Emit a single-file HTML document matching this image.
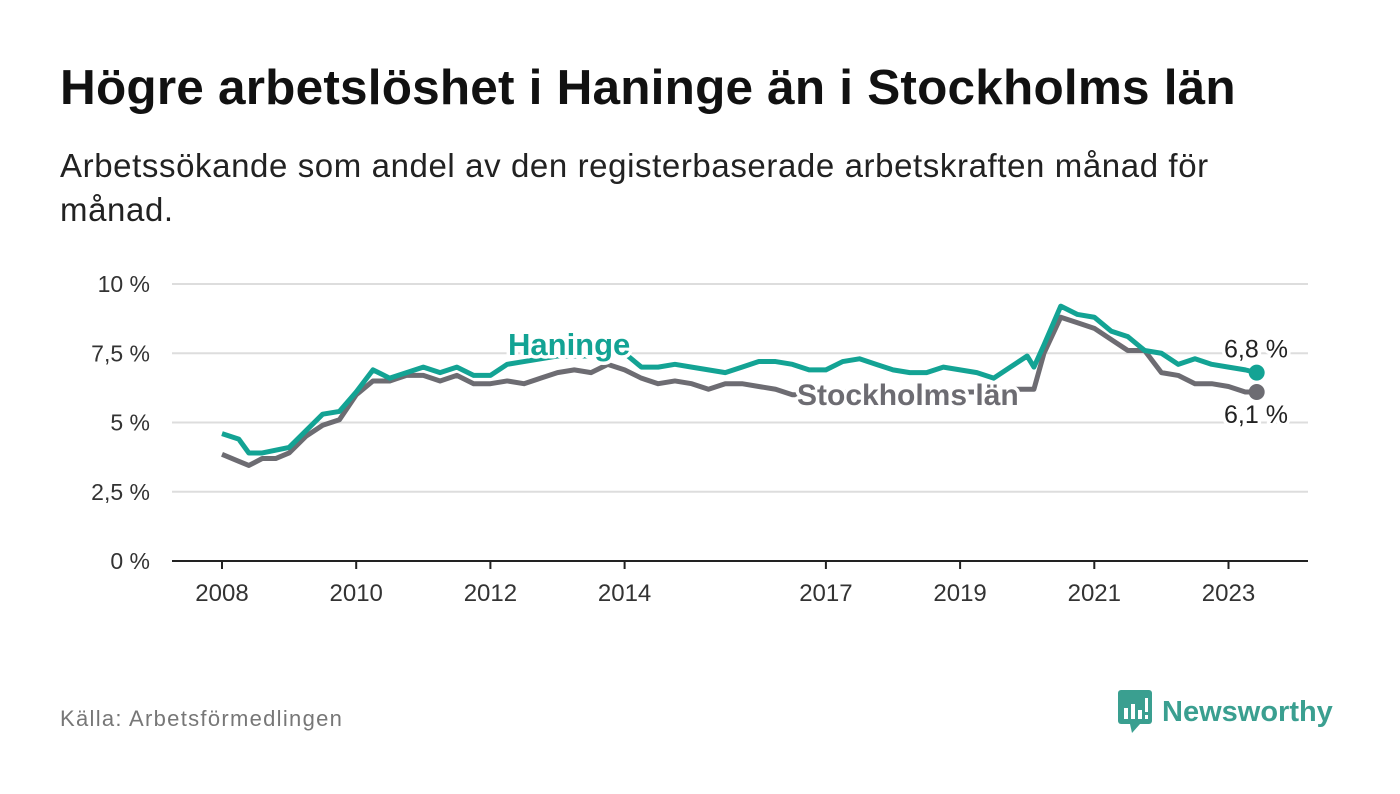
<!DOCTYPE html>
<html><head><meta charset="utf-8"><style>
body{margin:0;width:1400px;height:794px;background:#fff;font-family:"Liberation Sans",sans-serif;overflow:hidden;position:relative}
h1{position:absolute;left:60px;top:59px;margin:0;font-size:49.5px;font-weight:bold;color:#111;letter-spacing:0.2px}
.sub{position:absolute;left:60px;top:144px;width:1230px;font-size:33px;line-height:44px;color:#222;letter-spacing:0.6px}
.src{position:absolute;left:60px;top:706px;font-size:22px;color:#777;letter-spacing:1.3px}
.logo{position:absolute;left:1118px;top:690px;display:flex;align-items:center;gap:8px}
.logo span{font-size:29px;font-weight:bold;color:#3a9f90}
svg text{font-family:"Liberation Sans",sans-serif}
</style></head><body>
<h1>Högre arbetslöshet i Haninge än i Stockholms län</h1>
<div class="sub">Arbetssökande som andel av den registerbaserade arbetskraften månad för månad.</div>
<svg id="chart" width="1400" height="794" style="position:absolute;left:0;top:0"></svg>
<div class="src">Källa: Arbetsförmedlingen</div>
<div class="logo">
<svg width="36" height="44" viewBox="0 0 36 44"><rect x="0" y="0" width="34" height="34" rx="3" fill="#3a9f90"/><polygon points="12,34 22,34 14,43" fill="#3a9f90"/><rect x="6" y="18" width="4" height="11" fill="#fff"/><rect x="13" y="14" width="4" height="15" fill="#fff"/><rect x="20" y="20" width="4" height="9" fill="#fff"/><rect x="27" y="8" width="3" height="14" fill="#fff"/><rect x="27" y="25" width="3" height="4" fill="#fff"/></svg>
<span>Newsworthy</span></div>
<script>
const years=[2008,2008.25,2008.4,2008.6,2008.8,2009,2009.25,2009.5,2009.75,2010,2010.25,2010.5,2010.75,2011,2011.25,2011.5,2011.75,2012,2012.25,2012.5,2012.75,2013,2013.25,2013.5,2013.75,2014,2014.25,2014.5,2014.75,2015,2015.25,2015.5,2015.75,2016,2016.25,2016.5,2016.75,2017,2017.25,2017.5,2017.75,2018,2018.25,2018.5,2018.75,2019,2019.25,2019.5,2019.75,2020,2020.1,2020.25,2020.5,2020.75,2021,2021.25,2021.5,2021.75,2022,2022.25,2022.5,2022.75,2023,2023.25,2023.42];
const haninge=[4.6,4.4,3.9,3.9,4.0,4.1,4.7,5.3,5.4,6.1,6.9,6.6,6.8,7.0,6.8,7.0,6.7,6.7,7.1,7.2,7.3,7.4,7.4,7.4,7.5,7.5,7.0,7.0,7.1,7.0,6.9,6.8,7.0,7.2,7.2,7.1,6.9,6.9,7.2,7.3,7.1,6.9,6.8,6.8,7.0,6.9,6.8,6.6,7.0,7.4,7.0,7.8,9.2,8.9,8.8,8.3,8.1,7.6,7.5,7.1,7.3,7.1,7.0,6.9,6.8];
const stockholm=[3.85,3.6,3.45,3.7,3.7,3.9,4.5,4.9,5.1,6.0,6.5,6.5,6.7,6.7,6.5,6.7,6.4,6.4,6.5,6.4,6.6,6.8,6.9,6.8,7.1,6.9,6.6,6.4,6.5,6.4,6.2,6.4,6.4,6.3,6.2,6.0,6.0,6.1,6.1,6.1,6.1,6.1,6.1,6.1,6.1,6.1,6.1,6.2,6.2,6.2,6.2,7.5,8.8,8.6,8.4,8.0,7.6,7.6,6.8,6.7,6.4,6.4,6.3,6.1,6.1];
const yTicks=[0,2.5,5,7.5,10];
const yTickLabels=["0 %","2,5 %","5 %","7,5 %","10 %"];
const xTicks=[2008,2010,2012,2014,2017,2019,2021,2023];
const NS="http://www.w3.org/2000/svg";
const svg=document.getElementById('chart');
const X=v=>222+(v-2008)*67.1;
const Y=v=>561-v*27.7;
function mk(t,a){const e=document.createElementNS(NS,t);for(const k in a)e.setAttribute(k,a[k]);svg.appendChild(e);return e;}
yTicks.forEach((t,i)=>{
 if(t>0){const g=mk('line',{x1:172,x2:1308,y1:Y(t),y2:Y(t),stroke:'#ddd','stroke-width':2});
 
 }
 const l=mk('text',{x:150,y:Y(t)+8,'text-anchor':'end','font-size':23,fill:'#333'});l.textContent=yTickLabels[i];
 
 
});
const ax=mk('line',{x1:172,x2:1308,y1:561,y2:561,stroke:'#222','stroke-width':2});


xTicks.forEach(t=>{
 mk('line',{x1:X(t),x2:X(t),y1:561,y2:569,stroke:'#222','stroke-width':2});
 const l=mk('text',{x:X(t),y:601,'text-anchor':'middle','font-size':24,fill:'#333'});l.textContent=t;
 
 
});
function line(vals,col,name){
 const p=mk('polyline',{points:years.map((y,i)=>X(y)+','+Y(vals[i])).join(' '),fill:'none',stroke:col,'stroke-width':5,'stroke-linejoin':'round'});
 
 
 const n=years.length-1;
 const c=mk('circle',{cx:X(years[n]),cy:Y(vals[n]),r:8,fill:col});
 
 
}
line(stockholm,'#6d6c72','stockholm-line');
line(haninge,'#13a394','haninge-line');
function lab(x,y,txt,col,size,bold,name,anchor){
 const t=mk('text',{x:x,y:y,'font-size':size,'font-weight':bold?'bold':'normal',fill:col,stroke:'#fff','stroke-width':7,'paint-order':'stroke','stroke-linejoin':'round','text-anchor':anchor||'start'});
 t.textContent=txt;
 
 
}
lab(508,355,'Haninge','#13a394',31,true,'haninge-label');
lab(797,405,'Stockholms län','#6d6c72',30,true,'stockholm-label');
const n=years.length-1;
lab(1256,Y(haninge[n])-15,'6,8 %','#222',25,false,'haninge-value-label','middle');
lab(1256,Y(stockholm[n])+31,'6,1 %','#222',25,false,'stockholm-value-label','middle');
</script>
</body></html>
